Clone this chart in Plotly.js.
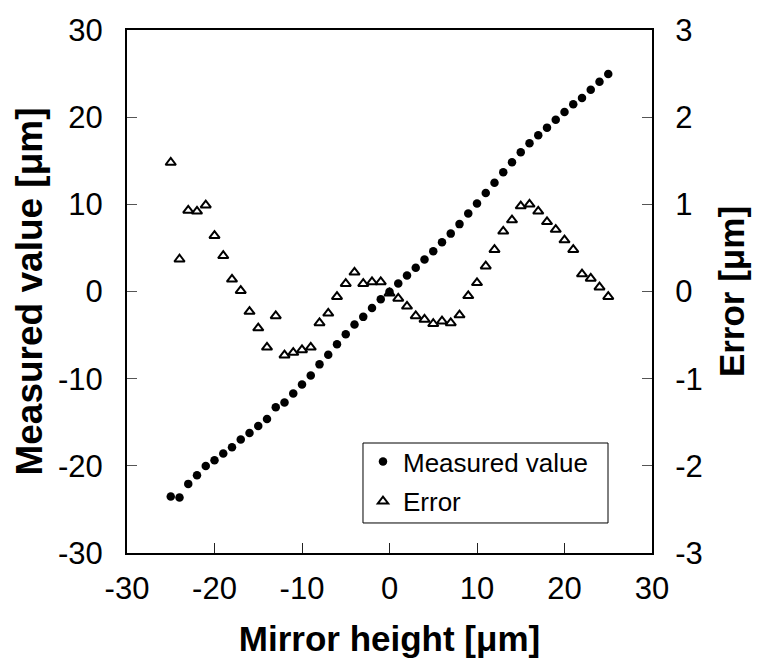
<!DOCTYPE html>
<html>
<head>
<meta charset="utf-8">
<script src="https://cdn.plot.ly/plotly-3.0.1.min.js"></script>
<style>html,body{margin:0;padding:0;background:#fff;}#chart{width:759px;height:659px;}</style>
</head>
<body>
<div id="chart"></div>
<script>
// Mirror height [µm]
var mirrorHeight = [-25,-24,-23,-22,-21,-20,-19,-18,-17,-16,-15,-14,-13,-12,-11,-10,-9,-8,-7,-6,-5,-4,-3,-2,-1,0,1,2,3,4,5,6,7,8,9,10,11,12,13,14,15,16,17,18,19,20,21,22,23,24,25];
// Measured value [µm] (left axis)
var measuredValue = [-23.52,-23.63,-22.07,-21.08,-20.01,-19.36,-18.59,-17.86,-16.99,-16.23,-15.42,-14.64,-13.28,-12.73,-11.70,-10.67,-9.64,-8.36,-7.25,-6.06,-4.91,-3.78,-2.91,-1.89,-0.89,-0.02,0.92,1.83,2.72,3.68,4.63,5.66,6.64,7.73,8.95,10.10,11.29,12.48,13.69,14.82,15.98,17.00,17.92,18.80,19.71,20.59,21.48,22.20,23.15,24.05,24.94];
// Error [µm] (right axis)
var errorValue = [1.48,0.37,0.93,0.92,0.99,0.64,0.41,0.14,0.01,-0.23,-0.42,-0.64,-0.28,-0.73,-0.70,-0.67,-0.64,-0.36,-0.25,-0.06,0.09,0.22,0.09,0.11,0.11,-0.02,-0.08,-0.17,-0.28,-0.32,-0.37,-0.34,-0.36,-0.27,-0.05,0.10,0.29,0.48,0.69,0.82,0.98,1.00,0.92,0.80,0.71,0.59,0.48,0.20,0.15,0.05,-0.06];
var xTicks = [-30,-20,-10,0,10,20,30];
var yTicks = [-30,-20,-10,0,10,20,30];
var y2Ticks = [-3,-2,-1,0,1,2,3];

var FONT = 'Liberation Sans, Arial, sans-serif';

var traces = [
  {
    x: mirrorHeight, y: measuredValue, name: 'Measured value', type: 'scatter', mode: 'markers',
    marker: {symbol: 'circle', size: 8.5, color: '#000'},
    legendgroup: 'a', yaxis: 'y'
  },
  {
    x: mirrorHeight, y: errorValue, name: 'Error', type: 'scatter', mode: 'markers',
    marker: {symbol: 'triangle-up-open', size: 9, color: '#000', line: {width: 2, color: '#000'}},
    legendgroup: 'b', yaxis: 'y2'
  }
];

var axisCommon = {
  showgrid: false, zeroline: false, showline: true, linecolor: '#000', linewidth: 2,
  ticks: 'inside', ticklen: 10, tickwidth: 1, tickcolor: '#555',
  tickfont: {family: FONT, size: 31, color: '#000'}
};

var layout = {
  width: 759, height: 659,
  margin: {l: 127, r: 107, t: 30, b: 106, pad: 0},
  paper_bgcolor: '#fff', plot_bgcolor: '#fff',
  font: {family: FONT, color: '#000'},
  showlegend: true,
  xaxis: Object.assign({}, axisCommon, {
    range: [-30, 30], tickvals: xTicks, ticktext: xTicks.map(String), mirror: true,
    tickcolor: '#222', ticklabelstandoff: 7,
    title: {text: '<b>Mirror height [μm]</b>', font: {family: FONT, size: 35, color: '#000'}, standoff: 21}
  }),
  yaxis: Object.assign({}, axisCommon, {
    range: [-30, 30], tickvals: yTicks, ticktext: yTicks.map(String),
    ticklabelstandoff: 16,
    title: {text: '<b>Measured value [μm]</b>', font: {family: FONT, size: 37, color: '#000'}, standoff: 4}
  }),
  yaxis2: Object.assign({}, axisCommon, {
    range: [-3, 3], tickvals: y2Ticks, ticktext: y2Ticks.map(String),
    overlaying: 'y', side: 'right', ticklabelstandoff: 15,
    title: {text: '<b>Error [μm]</b>', font: {family: FONT, size: 35, color: '#000'}, standoff: 18}
  }),
  shapes: [{
    type: 'rect', xref: 'paper', yref: 'paper',
    x0: 0.4495, x1: 0.9162, y0: 0.0574, y1: 0.2103,
    line: {color: '#000', width: 1}, fillcolor: '#fff', layer: 'above'
  }],
  legend: {
    x: 0.4495, y: 0.2199, xanchor: 'left', yanchor: 'top',
    bgcolor: 'rgba(0,0,0,0)', borderwidth: 0,
    font: {family: FONT, size: 26, color: '#000'},
    traceorder: 'grouped', tracegroupgap: 3
  }
};

Plotly.newPlot('chart', traces, layout, {displayModeBar: false, staticPlot: true});
</script>
</body>
</html>
